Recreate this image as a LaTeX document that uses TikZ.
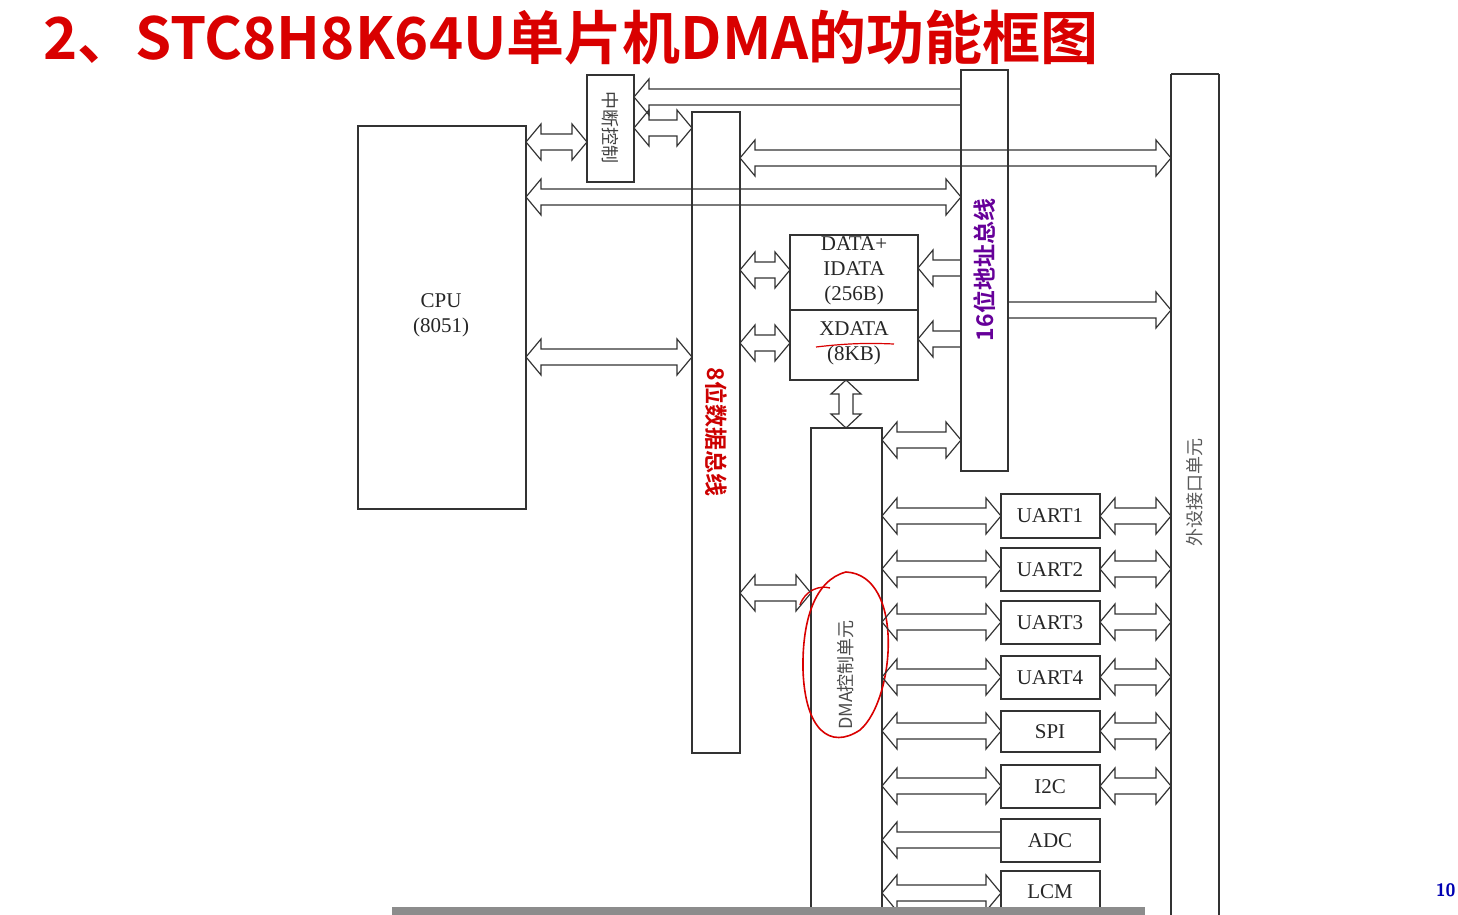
\documentclass[tikz,border=0pt]{standalone}
\usepackage{fontspec}
\setmainfont{Liberation Serif}
\newfontfamily\cjk{Noto Sans CJK SC}
\newfontfamily\cjkb{Noto Sans CJK SC Bold}
\begin{document}
\begin{tikzpicture}[x=0.5pt,y=-0.5pt,
  box/.style={draw=black!80,line width=0.7pt},
  arr/.style={draw=black!80,line width=0.6pt,line join=miter},
  lbl/.style={font=\fontsize{10.5}{12.5}\selectfont,align=center,text=black!85}]
\useasboundingbox (0,0) rectangle (1458,915);
\newcommand\dH[3]{\draw[arr] (#1,#3) -- ++(15,-18) -- ++(0,10) -- (#2-15,#3-8) -- ++(0,-10) -- (#2,#3) -- ++(-15,18) -- ++(0,-10) -- (#1+15,#3+8) -- ++(0,10) -- cycle;}
\newcommand\lH[3]{\draw[arr] (#1,#3) -- ++(15,-18) -- ++(0,10) -- (#2,#3-8) -- (#2,#3+8) -- (#1+15,#3+8) -- ++(0,10) -- cycle;}
\newcommand\rH[3]{\draw[arr] (#2,#3) -- ++(-15,-18) -- ++(0,10) -- (#1,#3-8) -- (#1,#3+8) -- (#2-15,#3+8) -- ++(0,10) -- cycle;}
\newcommand\vH[3]{\draw[arr] (#1,#2) -- ++(-15,14) -- ++(8,0) -- (#1-7,#3-14) -- ++(-8,0) -- (#1,#3) -- ++(15,-14) -- ++(-8,0) -- (#1+7,#2+14) -- ++(8,0) -- cycle;}
% title
\node[anchor=west,text=red!85!black,font=\cjkb\fontsize{29}{32}\selectfont] (title) at (36,38) {2、STC8H8K64U单片机DMA的功能框图};
% boxes
\draw[box] (358,126) rectangle (526,509);
\node[lbl] (cpu) at (441,315) {CPU\\(8051)};
\draw[box] (587,75) rectangle (634,182);
\node[rotate=-90,font=\cjk\fontsize{9}{10}\selectfont,text=black!75] (int) at (610,128) {中断控制};
\draw[box] (692,112) rectangle (740,753);
\node[rotate=-90,font=\cjkb\fontsize{11.5}{12}\selectfont,text=red!80!black] (dbus) at (716,432) {8位数据总线};
\draw[box] (961,70) rectangle (1008,471);
\node[rotate=90,font=\cjkb\fontsize{11.5}{12}\selectfont,text=violet!80!blue] (abus) at (985,270) {16位地址总线};
\draw[box] (1171,74) -- (1171,915) (1219,74) -- (1219,915) (1171,74) -- (1219,74);
\node[rotate=90,font=\cjk\fontsize{9}{10}\selectfont,text=black!65] (per) at (1195,492) {外设接口单元};
\draw[box] (790,235) rectangle (918,310);
\node[lbl] (data) at (854,271) {DATA+\\IDATA\\(256B)};
\draw[box] (790,310) rectangle (918,380);
\node[lbl] (xdata) at (854,343) {XDATA\\(8KB)};
\draw[red!85!black,line width=0.6pt] (816,347) .. controls (850,343) and (870,343) .. (894,344);
\draw[box] (811,915) -- (811,428) -- (882,428) -- (882,915);
\node[rotate=90,font=\cjk\fontsize{9}{10}\selectfont,text=black!70] (dma) at (846,675) {DMA控制单元};
\draw[red!85!black,line width=0.8pt] (846,572) .. controls (905,575) and (895,700) .. (860,730) .. controls (830,750) and (805,730) .. (803,670) .. controls (802,620) and (815,580) .. (846,572);
\draw[red!85!black,line width=0.7pt] (800,605) .. controls (805,590) and (820,585) .. (830,588);
% peripherals
\foreach \n/\t/\b in {UART1/494/538,UART2/548/591,UART3/601/644,UART4/656/699,SPI/711/752,I2C/765/808,ADC/819/862}
  {\draw[box] (1001,\t) rectangle (1100,\b); \node[lbl] (\n) at (1050,{(\t+\b)/2}) {\n};}
\draw[box] (1001,915) -- (1001,871) -- (1100,871) -- (1100,915);
\node[lbl] (LCM) at (1050,892) {LCM};
% arrows
\lH{634}{961}{97}
\dH{526}{587}{142}
\dH{634}{692}{128}
\dH{740}{1171}{158}
\dH{526}{961}{197}
\dH{740}{790}{270}
\lH{918}{961}{268}
\dH{740}{790}{343}
\lH{918}{961}{339}
\rH{1008}{1171}{310}
\dH{526}{692}{357}
\vH{846}{380}{428}
\dH{882}{961}{440}
\dH{740}{811}{593}
\foreach \y in {516,569,622,677,731,786} {\dH{882}{1001}{\y} \dH{1100}{1171}{\y}}
\lH{882}{1001}{840}
\dH{882}{1001}{893}
% page number and scrollbar
\fill[black!45] (392,907) rectangle (1145,915);
\node[text=blue!70!black,font=\sffamily\bfseries\fontsize{9}{10}\selectfont,anchor=east,inner sep=1pt] (pg) at (1458,890) {10};
\end{tikzpicture}
\end{document}
